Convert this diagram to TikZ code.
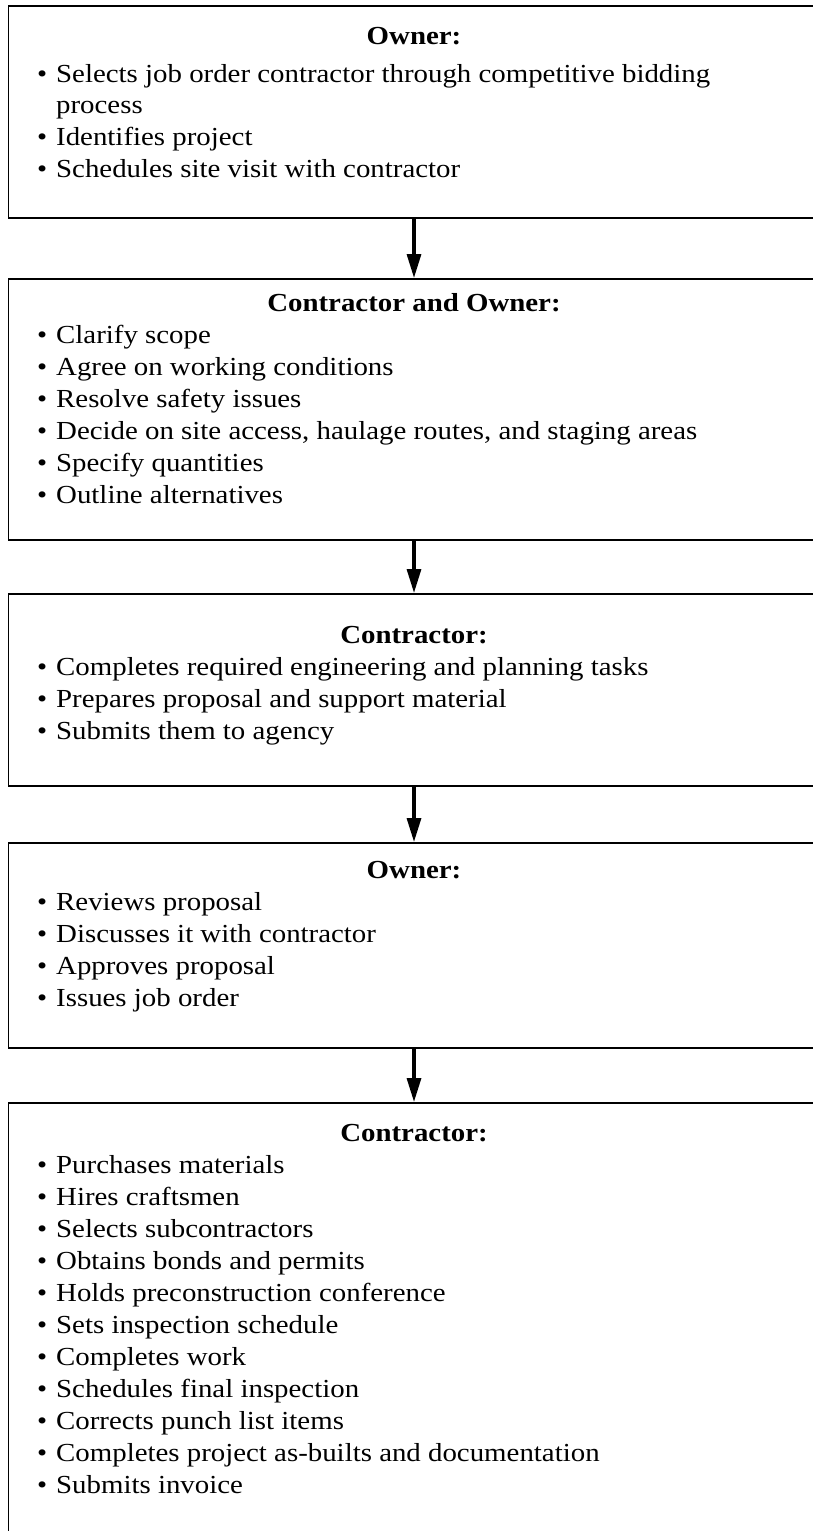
\documentclass[tikz,border=0pt]{standalone}
\usepackage{fontspec}
\setmainfont{Liberation Serif}[FakeStretch=1.11]
\usetikzlibrary{arrows.meta,calc}
\tikzset{
  frame/.style={draw=black, line width=1.8pt, rectangle, inner sep=0pt},
  hdr/.style={anchor=base, inner sep=0pt, font=\fontsize{26}{32}\selectfont\bfseries},
  itm/.style={anchor=base west, inner sep=0pt, font=\fontsize{26}{32}\selectfont},
  flow/.style={line width=3.2pt, -{Triangle[length=24pt,width=14pt]}, shorten >=0pt}
}
\newcommand{\bul}{\makebox[19pt][l]{\textbullet}}
\begin{document}
\begin{tikzpicture}[x=1pt,y=-1pt]
\useasboundingbox (0,0) rectangle (812,1531);
% boxes
\node[frame, minimum width=813pt, minimum height=212pt, anchor=north west] (b1) at (7.5,5) {};
\node[frame, minimum width=813pt, minimum height=261pt, anchor=north west] (b2) at (7.5,278) {};
\node[frame, minimum width=813pt, minimum height=192pt, anchor=north west] (b3) at (7.5,593) {};
\node[frame, minimum width=813pt, minimum height=205pt, anchor=north west] (b4) at (7.5,842) {};
\node[frame, minimum width=813pt, minimum height=460pt, anchor=north west] (b5) at (7.5,1102) {};
% box 1
\node[hdr] (h1) at (414,44) {Owner:};
\node[itm] (t11) at (37,82) {\bul Selects job order contractor through competitive bidding};
\node[itm] (t12) at (37,113) {\hspace*{19pt}process};
\node[itm] (t13) at (37,145) {\bul Identifies project};
\node[itm] (t14) at (37,177) {\bul Schedules site visit with contractor};
% box 2
\node[hdr] (h2) at (414,311) {Contractor and Owner:};
\node[itm] (t21) at (37,343) {\bul Clarify scope};
\node[itm] (t22) at (37,375) {\bul Agree on working conditions};
\node[itm] (t23) at (37,407) {\bul Resolve safety issues};
\node[itm] (t24) at (37,439) {\bul Decide on site access, haulage routes, and staging areas};
\node[itm] (t25) at (37,471) {\bul Specify quantities};
\node[itm] (t26) at (37,503) {\bul Outline alternatives};
% box 3
\node[hdr] (h3) at (414,643) {Contractor:};
\node[itm] (t31) at (37,675) {\bul Completes required engineering and planning tasks};
\node[itm] (t32) at (37,707) {\bul Prepares proposal and support material};
\node[itm] (t33) at (37,739) {\bul Submits them to agency};
% box 4
\node[hdr] (h4) at (414,878) {Owner:};
\node[itm] (t41) at (37,910) {\bul Reviews proposal};
\node[itm] (t42) at (37,942) {\bul Discusses it with contractor};
\node[itm] (t43) at (37,974) {\bul Approves proposal};
\node[itm] (t44) at (37,1006) {\bul Issues job order};
% box 5
\node[hdr] (h5) at (414,1141) {Contractor:};
\node[itm] (t51) at (37,1173) {\bul Purchases materials};
\node[itm] (t52) at (37,1205) {\bul Hires craftsmen};
\node[itm] (t53) at (37,1237) {\bul Selects subcontractors};
\node[itm] (t54) at (37,1269) {\bul Obtains bonds and permits};
\node[itm] (t55) at (37,1301) {\bul Holds preconstruction conference};
\node[itm] (t56) at (37,1333) {\bul Sets inspection schedule};
\node[itm] (t57) at (37,1365) {\bul Completes work};
\node[itm] (t58) at (37,1397) {\bul Schedules final inspection};
\node[itm] (t59) at (37,1429) {\bul Corrects punch list items};
\node[itm] (t5a) at (37,1461) {\bul Completes project as-builts and documentation};
\node[itm] (t5b) at (37,1493) {\bul Submits invoice};
% arrows
\draw[flow] (b1.south -| 414,0) -- (b2.north -| 414,0);
\draw[flow] (b2.south -| 414,0) -- (b3.north -| 414,0);
\draw[flow] (b3.south -| 414,0) -- (b4.north -| 414,0);
\draw[flow] (b4.south -| 414,0) -- (b5.north -| 414,0);
\end{tikzpicture}
\end{document}
